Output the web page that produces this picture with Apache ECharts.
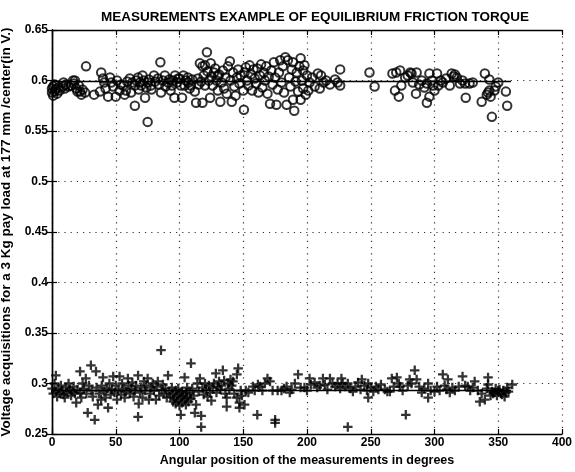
<!DOCTYPE html>
<html>
<head>
<meta charset="utf-8">
<script src="https://cdn.jsdelivr.net/npm/echarts@6/dist/echarts.min.js"></script>
<style>html,body{margin:0;padding:0;background:#fff}#c{width:575px;height:472px}</style>
</head>
<body>
<div id="c"></div>
<script>
const titleText = 'MEASUREMENTS EXAMPLE OF EQUILIBRIUM FRICTION TORQUE';
const xName = 'Angular position of the measurements in degrees';
const yName = 'Voltage acquisitions for a 3 Kg pay load at 177 mm /center(in V.)';
const xTicks = [0, 50, 100, 150, 200, 250, 300, 350, 400];
const yTicks = [0.25, 0.3, 0.35, 0.4, 0.45, 0.5, 0.55, 0.6, 0.65];
const upperMean = 0.599;
const lowerMean = 0.293;
const meanRange = [0, 360];

const upperCircles = [
[0,0.588],[0,0.592],[1,0.585],[1,0.594],[2,0.589],[2,0.596],[3,0.591],[4,0.587],[5,0.593],[6,0.59],[8.6,0.594],[9,0.598],[10,0.592],[11,0.596],
[13,0.594],[15,0.595],[16.5,0.6],[17,0.597],[18,0.6],[19,0.592],[20,0.589],[21,0.595],[22,0.589],[23,0.586],[24,0.591],[26,0.588],[26.7,0.614],
[33,0.586],[37.6,0.589],[38.6,0.608],[40,0.602],[41,0.598],[42,0.592],[44,0.584],[45.5,0.603],[46.5,0.598],[48,0.594],[50,0.584],[51,0.6],
[53,0.59],[54,0.596],[56,0.595],[57,0.586],[58,0.59],[59,0.599],[61,0.602],[62,0.588],[63,0.598],[65,0.595],[65,0.575],[66,0.6],[67.5,0.603],[68,0.591],[69,0.598],[70,0.595],[71,0.605],[72,0.6],[73,0.583],[74,0.593],[75,0.598],[75,0.559],[76,0.601],[77.5,0.595],[78,0.591],[80,0.605],[81,0.599],
[83,0.602],[84,0.596],[85,0.618],[85.5,0.588],[87,0.6],[88.5,0.605],[89,0.594],[91,0.598],[92,0.601],[93,0.59],[94,0.595],[95,0.6],[96,0.583],[96.5,0.605],[98,0.598],[99,0.602],[100,0.602],[101,0.595],
[102,0.583],[103,0.605],[104,0.595],[105,0.6],[106.5,0.603],[107,0.598],[108,0.592],[109,0.595],[110,0.601],[112,0.589],[113,0.578],[114.5,0.602],[115,0.596],[116,0.617],[117,0.599],[118,0.578],[118,0.614],[119,0.605],[120,0.615],[120,0.595],[121.5,0.628],[122,0.609],[123,0.6],[124,0.583],[124.5,0.617],[125,0.604],[126,0.595],[127,0.608],[128,0.612],[129,0.6],[130,0.605],[130,0.59],
[131,0.606],[132,0.579],[133,0.598],[134,0.61],[135,0.592],[136,0.603],[137,0.587],[138,0.614],[139.5,0.619],[140,0.6],[141,0.579],[142,0.608],[143,0.594],[144,0.585],[145,0.603],[146,0.611],[147,0.597],[148,0.605],[150.5,0.571],[150,0.59],[151,0.608],[152,0.613],[153,0.6],[154,0.595],[155,0.615],[156,0.606],[157,0.59],[158,0.611],[159,0.602],[160,0.597],
[161,0.612],[162,0.588],[163,0.605],[164,0.616],[165,0.593],[166,0.608],[167,0.6],[168,0.614],[169,0.587],[170,0.604],[171,0.577],[172,0.61],[173,0.596],[174,0.618],[175,0.603],[176,0.576],[177,0.591],[178,0.608],[179,0.62],[180,0.598],[181,0.614],[182,0.588],[183,0.623],[184,0.576],[185,0.62],[186,0.603],[187,0.594],[188,0.611],[189,0.618],[189,0.581],[190,0.57],[191,0.599],[192,0.608],[193,0.589],[194,0.614],[195,0.581],[195,0.622],[196,0.6],[197,0.61],[197,0.592],[198,0.615],[199,0.586],[200,0.605],
[201,0.59],[202,0.598],[204,0.603],[206,0.594],[208.5,0.607],[210,0.592],[211,0.605],[213,0.598],[215,0.6],[218,0.596],[222,0.601],[224,0.598],[226,0.611],[226,0.595],
[249,0.608],[253,0.594],
[267,0.607],[269,0.59],[270,0.608],[272,0.584],[273,0.61],[274,0.595],[277,0.603],[279,0.605],[281,0.608],[282,0.607],[283,0.598],[285.5,0.587],[286,0.608],[288,0.596],[290,0.6],[292,0.593],[294,0.597],[294,0.578],[296,0.607],[296,0.584],[298,0.6],[299,0.595],[300,0.59],[302,0.607],[303,0.595],[305,0.6],[306.5,0.598],[309,0.602],[312,0.595],[313.5,0.607],[315,0.604],[316,0.606],[317.5,0.603],[320,0.597],[322,0.6],[324,0.597],[324.5,0.583],[327.5,0.597],[330,0.598],[337,0.579],[339.5,0.607],[341,0.586],[342,0.588],[343,0.601],[343,0.59],[344,0.584],[345,0.564],[347,0.59],[348,0.594],[350,0.598],[356,0.589],[357,0.575]
];

const lowerPluses = [
[0,0.295],[1,0.29],[2,0.3],[3,0.308],[3,0.292],[4,0.287],[5,0.295],[6,0.29],[7,0.298],[8,0.293],[9,0.289],[10,0.286],[11,0.296],[12,0.291],[13,0.3],[14,0.294],[15,0.288],[16,0.292],[17,0.297],[18,0.29],[19,0.281],[20,0.294],[22,0.312],[22,0.291],[23,0.286],[24,0.3],[25,0.295],[26.5,0.305],[27,0.29],[28,0.271],[29,0.298],[30.5,0.318],
[31,0.293],[32,0.287],[33.5,0.264],[34.5,0.312],[35,0.296],[36,0.279],[37,0.29],[38.5,0.284],[39,0.298],[40,0.306],[41,0.292],[42,0.286],[43,0.295],[44,0.276],[45,0.3],[46,0.289],[47,0.294],[48,0.307],[49,0.291],[50,0.298],[51,0.284],[52,0.293],[53,0.307],[54,0.289],[55,0.3],[56,0.295],[57,0.286],[58,0.292],[59.5,0.305],[60,0.298],
[61,0.29],[62,0.295],[63,0.301],[64,0.287],[65,0.293],[66,0.298],[67.5,0.308],[67.5,0.267],[68,0.28],[69,0.291],[70,0.296],[71,0.286],[72,0.302],[73,0.293],[74,0.298],[75,0.305],[76,0.284],[77,0.29],[78,0.296],[79,0.3],[80,0.293],[81.5,0.284],[82,0.297],[83,0.302],[84,0.288],[85.5,0.333],[86,0.294],[87,0.299],[88,0.29],[89,0.295],[90,0.286],
[91,0.308],[92,0.292],[93,0.287],[94,0.296],[95,0.282],[95,0.29],[96,0.285],[97,0.293],[97,0.28],[98,0.288],[99,0.295],[99,0.283],[100,0.29],[100,0.278],[101,0.269],[101,0.286],[102,0.292],[102,0.281],[103,0.288],[104,0.306],[104,0.284],[105,0.291],[105,0.279],[106,0.296],[106,0.286],[107,0.282],[108,0.29],[109,0.32],[109,0.285],[110,0.295],[111,0.288],[112,0.271],[113,0.279],[114,0.3],[115,0.292],[116,0.305],[117,0.268],[117,0.257],[118,0.296],[119,0.289],[120,0.3],
[121,0.294],[122,0.287],[123,0.298],[124,0.291],[125,0.283],[126,0.296],[127,0.3],[128.5,0.31],[129,0.291],[130,0.297],[131,0.302],[132,0.294],[133,0.298],[134,0.313],[135,0.303],[136,0.29],[137,0.286],[137,0.277],[138,0.3],[139,0.295],[140,0.304],[141,0.298],[142,0.302],[143,0.29],[145,0.309],[145,0.286],[146,0.315],[147,0.281],[147,0.276],[148,0.293],[149,0.288],[151,0.279],[152,0.293],[154,0.291],[157.5,0.297],[159,0.293],[161,0.269],[161.5,0.299],[163,0.297],[165,0.293],
[167,0.3],[169,0.305],[171,0.302],[173,0.293],[175,0.264],[175,0.261],[177,0.293],[180,0.293],[182,0.295],[184,0.297],[186.5,0.291],[188,0.294],[190.5,0.3],[193,0.309],[195,0.296],[198,0.296],[200,0.293],[202,0.305],[203,0.299],[206,0.301],[208,0.296],[210,0.298],[212.5,0.305],[214,0.299],[216,0.294],[218,0.305],[220,0.3],[222,0.297],[224,0.3],[226,0.295],[227,0.305],[228,0.3],[230,0.297],[232,0.3],[232,0.257],[234,0.295],
[236,0.292],[238,0.297],[240,0.301],[242,0.294],[243,0.304],[245,0.298],[247,0.293],[248,0.3],[248,0.286],[250,0.296],[252,0.292],[254,0.297],[256,0.294],[258,0.299],[261,0.294],[263,0.292],
[265,0.292],[266.5,0.305],[268,0.297],[270.5,0.306],[272,0.3],[273,0.297],[275,0.293],[277.5,0.269],[279,0.298],[280.5,0.304],[282,0.3],[284.5,0.313],[286,0.304],[288,0.297],[290,0.291],[292,0.295],[295,0.3],[295,0.286],[297,0.293],[300,0.292],[302,0.297],[304,0.293],[306.5,0.309],[308,0.298],[310.5,0.304],[309.5,0.294],[312,0.291],[314,0.296],[316,0.293],[319,0.297],[322,0.307],[324,0.298],[326,0.297],[328,0.293],[330,0.296],[331.5,0.302],[334,0.293],[335.5,0.282],[337,0.29],[339.5,0.284],[341,0.295],[342,0.306],[342,0.299],[344,0.288],[345,0.292],[346,0.29],[347,0.291],[348,0.295],[349,0.288],[350,0.293],[351,0.294],[352,0.29],[353,0.289],[354,0.293],[355,0.287],[356,0.291],[357,0.296],[358,0.292],[361,0.299]
];

const FONT = '"Liberation Sans", Arial, sans-serif';
const chart = echarts.init(document.getElementById('c'), null, {renderer: 'canvas'});
const fmtY = v => String(Number(v.toFixed(2)));
const baseAxis = {
  axisLine: {show: true, lineStyle: {color: '#000', width: 1.4}},
  axisTick: {show: true, inside: true, length: 5, lineStyle: {color: '#000', width: 1.2}},
};
const plusPath = 'path://M3.8,0H6.2V3.8H10V6.2H6.2V10H3.8V6.2H0V3.8H3.8Z';
const gridLine = {show: true, lineStyle: {color: '#333', type: [1.2, 5], width: 1.2}};

chart.setOption({
  animation: false,
  backgroundColor: '#fff',
  title: {
    text: titleText, left: 310, top: 5, textAlign: 'center',
    textStyle: {fontFamily: FONT, fontSize: 13.5, fontWeight: 'bold', color: '#000'}
  },
  grid: {left: 52, right: 13, top: 30, bottom: 38, outerBoundsMode: 'none', containLabel: false},
  xAxis: [
    Object.assign({}, baseAxis, {
      type: 'value', min: xTicks[0], max: xTicks[xTicks.length-1], interval: xTicks[1]-xTicks[0],
      position: 'bottom',
      name: xName, nameLocation: 'middle', nameGap: 20,
      nameTextStyle: {fontFamily: FONT, fontSize: 12.5, fontWeight: 'bold', color: '#000'},
      axisLabel: {fontFamily: FONT, fontSize: 12, fontWeight: 'bold', color: '#000', margin: 3},
      splitLine: gridLine
    }),
    Object.assign({}, baseAxis, {
      type: 'value', min: xTicks[0], max: xTicks[xTicks.length-1], interval: xTicks[1]-xTicks[0],
      position: 'top', axisLabel: {show: false}, splitLine: {show: false}
    })
  ],
  yAxis: [
    Object.assign({}, baseAxis, {
      type: 'value', min: yTicks[0], max: yTicks[yTicks.length-1], interval: 0.05,
      position: 'left',
      name: yName, nameLocation: 'middle', nameGap: 27, nameRotate: 90,
      nameTextStyle: {fontFamily: FONT, fontSize: 13.5, fontWeight: 'bold', color: '#000'},
      axisLabel: {fontFamily: FONT, fontSize: 12, fontWeight: 'bold', color: '#000', margin: 4, formatter: fmtY},
      splitLine: gridLine
    }),
    Object.assign({}, baseAxis, {
      type: 'value', min: yTicks[0], max: yTicks[yTicks.length-1], interval: 0.05,
      position: 'right', axisLabel: {show: false}, splitLine: {show: false}
    })
  ],
  series: [
    {
      type: 'scatter', data: upperCircles, symbol: 'circle', symbolSize: 8.5,
      itemStyle: {color: 'rgba(0,0,0,0)', borderColor: '#000', borderWidth: 2}, silent: true
    },
    {
      type: 'scatter', data: lowerPluses, symbol: plusPath, symbolSize: 9.5,
      itemStyle: {color: '#000'}, silent: true
    },
    {
      type: 'line', data: [[meanRange[0], upperMean], [meanRange[1], upperMean]], symbol: 'none',
      lineStyle: {color: '#000', width: 1.6}, silent: true
    },
    {
      type: 'line', data: [[meanRange[0], lowerMean], [meanRange[1], lowerMean]], symbol: 'none',
      lineStyle: {color: '#000', width: 1.6}, silent: true
    }
  ]
});
</script>
</body>
</html>
